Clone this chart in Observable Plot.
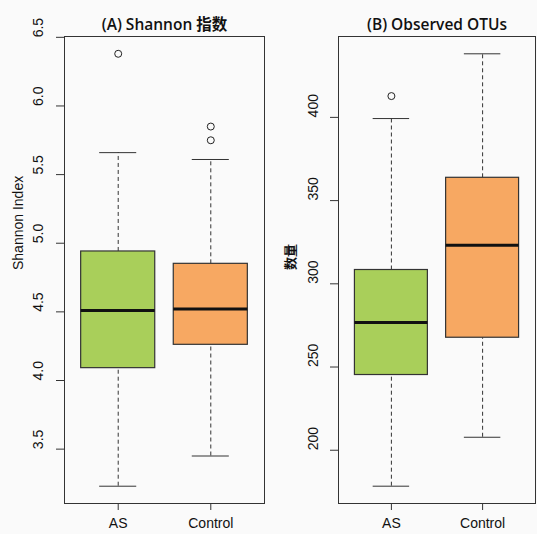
<!DOCTYPE html>
<html>
<head>
<meta charset="utf-8">
<script src="https://cdn.jsdelivr.net/npm/d3@7"></script>
<script src="https://cdn.jsdelivr.net/npm/@observablehq/plot@0.6"></script>
<style>
  html, body { margin: 0; padding: 0; background: #fafafa; }
  #wrap { width: 537px; height: 534px; display: flex; flex-direction: row; background: #fafafa; }
  #wrap svg { display: block; }
</style>
</head>
<body>
<div id="wrap"></div>
<script>
// ---- Data ----
const groups = ["AS", "Control"];
const groupColors = ["#a9cf5a", "#f7a862"];

// Panel A: Shannon index
const shannonLow = [3.23, 3.45];
const shannonQ1 = [4.09, 4.26];
const shannonMed = [4.51, 4.52];
const shannonQ3 = [4.94, 4.85];
const shannonHigh = [5.66, 5.61];
const shannonOutGroup = ["AS", "Control", "Control"];
const shannonOutValue = [6.38, 5.85, 5.75];
const shannonTicks = [3.5, 4.0, 4.5, 5.0, 5.5, 6.0, 6.5];

// Panel B: Observed OTUs
const otuLow = [178.4, 207.8];
const otuQ1 = [245.2, 267.6];
const otuMed = [276.7, 323.1];
const otuQ3 = [308.3, 363.7];
const otuHigh = [399.3, 438.2];
const otuOutGroup = ["AS"];
const otuOutValue = [412.8];
const otuTicks = [200, 250, 300, 350, 400];

function boxTable(low, q1, med, q3, high) {
  return groups.map((g, i) => ({g, x: i + 1, low: low[i], q1: q1[i], med: med[i], q3: q3[i], high: high[i], color: groupColors[i]}));
}
function outTable(gs, vs) {
  return gs.map((g, i) => ({x: groups.indexOf(g) + 1, v: vs[i]}));
}

function panel({title, ylabel, ylabelFont, ylabelWeight, ylabelSize, ylabelDx, stats, outs, ticks, tickFmt, domain, width, marginLeft, marginRight, tickDx}) {
  const hw = 0.4, cw = 0.2;
  return Plot.plot({
    width, height: 534,
    marginLeft, marginRight, marginTop: 36, marginBottom: 31,
    style: {fontFamily: "'Liberation Sans', Arial, sans-serif", fontSize: "14px", background: "#fafafa", color: "#111"},
    x: {type: "linear", domain: [0.42, 2.58], axis: null},
    y: {domain, axis: null},
    marks: [
      // whiskers (dashed)
      Plot.ruleX(stats, {x: "x", y1: "q3", y2: "high", stroke: "#333", strokeDasharray: "4,3", strokeWidth: 1}),
      Plot.ruleX(stats, {x: "x", y1: "low", y2: "q1", stroke: "#333", strokeDasharray: "4,3", strokeWidth: 1}),
      // caps
      Plot.ruleY(stats, {y: "high", x1: d => d.x - cw, x2: d => d.x + cw, stroke: "#333", strokeWidth: 1}),
      Plot.ruleY(stats, {y: "low", x1: d => d.x - cw, x2: d => d.x + cw, stroke: "#333", strokeWidth: 1}),
      // boxes
      Plot.rect(stats, {x1: d => d.x - hw, x2: d => d.x + hw, y1: "q1", y2: "q3", fill: "color", stroke: "#333", strokeWidth: 1.2}),
      // medians
      Plot.ruleY(stats, {y: "med", x1: d => d.x - hw, x2: d => d.x + hw, stroke: "#111", strokeWidth: 3}),
      // outliers
      Plot.dot(outs, {x: "x", y: "v", r: 3.5, stroke: "#222", fill: "none", strokeWidth: 1}),
      // frame
      Plot.frame({stroke: "#333", strokeWidth: 1}),
      // y ticks
      Plot.axisY({ticks, tickSize: 8, tickFormat: () => "", label: null, stroke: "#333"}),
      Plot.text(ticks, {y: d => d, text: tickFmt, frameAnchor: "left", dx: tickDx, rotate: -90, fontSize: 14, fill: "#111"}),
      // x axis
      Plot.axisX({ticks: [1, 2], tickFormat: i => groups[i - 1], tickSize: 7, tickPadding: 8, label: null, fontSize: 14, stroke: "#333"}),
      // title
      Plot.text([title], {frameAnchor: "top", dy: -18, fontFamily: "'Open Sans', 'Noto Sans CJK SC', sans-serif", fontWeight: 600, fontSize: 15.5, fill: "#111"}),
      // y label
      Plot.text([ylabel], {frameAnchor: "left", dx: ylabelDx, rotate: -90, fontFamily: ylabelFont, fontWeight: ylabelWeight, fontSize: ylabelSize, fill: "#111"})
    ]
  });
}

const wrap = document.getElementById("wrap");
wrap.appendChild(panel({
  title: "(A) Shannon 指数",
  ylabel: "Shannon Index",
  ylabelFont: "'Liberation Sans', Arial, sans-serif",
  ylabelWeight: "normal",
  ylabelSize: 14,
  ylabelDx: -46,
  stats: boxTable(shannonLow, shannonQ1, shannonMed, shannonQ3, shannonHigh),
  outs: outTable(shannonOutGroup, shannonOutValue),
  ticks: shannonTicks,
  tickFmt: d => d.toFixed(1),
  domain: [3.104, 6.506],
  width: 270, marginLeft: 64, marginRight: 6,
  tickDx: -26
}));
wrap.appendChild(panel({
  title: "(B) Observed OTUs",
  ylabel: "数量",
  ylabelFont: "'Noto Sans CJK SC', sans-serif",
  ylabelWeight: "bold",
  ylabelSize: 13,
  ylabelDx: -48,
  stats: boxTable(otuLow, otuQ1, otuMed, otuQ3, otuHigh),
  outs: outTable(otuOutGroup, otuOutValue),
  ticks: otuTicks,
  tickFmt: d => String(d),
  domain: [168.0, 448.6],
  width: 267, marginLeft: 68, marginRight: 2,
  tickDx: -25
}));
</script>
</body>
</html>
